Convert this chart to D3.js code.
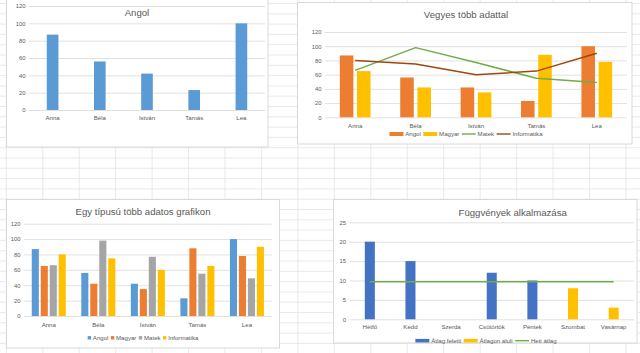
<!DOCTYPE html>
<html>
<head>
<meta charset="utf-8">
<script src="https://cdn.jsdelivr.net/npm/d3@7"></script>
<style>
  body { margin: 0; background: #fff; }
  text { font-family: "Liberation Sans", Arial, sans-serif; }
</style>
</head>
<body>
<svg id="sheet" width="640" height="353"></svg>
<script>
// ---- data ----
const students = ["Anna", "Béla", "István", "Tamás", "Lea"];
const angol = [87, 56, 42, 23, 100];
const magyar = [65, 42, 35, 88, 78];
const matek = [66, 98, 77, 55, 49];
const informatika = [80, 75, 60, 65, 90];
const pointTicks = [0, 20, 40, 60, 80, 100, 120];

const days = ["Hétfő", "Kedd", "Szerda", "Csütörtök", "Péntek", "Szombat", "Vasárnap"];
const atlagFeletti = [20, 15, null, 12, 10, null, null];
const atlagonAluli = [null, null, 0, null, null, 8, 3];
const hetiAtlag = [9.7, 9.7, 9.7, 9.7, 9.7, 9.7, 9.7];
const dayTicks = [0, 5, 10, 15, 20, 25];

const TXT = "#595959";
const GRID = "#D9D9D9";
const FS = 6.1; // axis / legend font size

const svg = d3.select("#sheet");
svg.append("rect").attr("width", 640).attr("height", 353).attr("fill", "#fff");

// spreadsheet cell grid behind the charts
const sheetGrid = svg.append("g").attr("stroke", "#E3E3E3").attr("stroke-width", 0.8);
d3.range(6.3, 640, 36.45).forEach((x) => {
  sheetGrid.append("line").attr("x1", x).attr("x2", x).attr("y1", 0).attr("y2", 353);
});
d3.range(3.5, 353, 10.3).forEach((y) => {
  sheetGrid.append("line").attr("x1", 0).attr("x2", 640).attr("y1", y).attr("y2", y);
});

// white chart box with thin border
function chartBox(x0, y0, x1, y1) {
  svg.append("rect")
    .attr("x", x0).attr("y", y0)
    .attr("width", x1 - x0).attr("height", y1 - y0)
    .attr("fill", "#fff").attr("stroke", GRID).attr("stroke-width", 1);
  return svg.append("g");
}

function title(g, text, cx, cy) {
  g.append("text")
    .attr("x", cx).attr("y", cy).attr("dy", "0.35em")
    .attr("text-anchor", "middle")
    .attr("font-size", 9.6).attr("fill", TXT)
    .text(text);
}

// value axis with horizontal gridlines
function valueAxis(g, y, ticks, x0, x1) {
  const ax = g.append("g")
    .attr("transform", `translate(${x0},0)`)
    .call(d3.axisLeft(y).tickValues(ticks).tickSize(-(x1 - x0)).tickPadding(3.5));
  ax.select(".domain").remove();
  ax.selectAll(".tick line").attr("stroke", GRID).attr("stroke-width", 0.8);
  ax.selectAll(".tick text").attr("font-size", FS - 0.3).attr("fill", TXT);
}

// category labels under the plot
function categoryAxis(g, x, yBase, offset) {
  const ax = g.append("g")
    .attr("transform", `translate(0,${yBase})`)
    .call(d3.axisBottom(x).tickSize(0));
  ax.select(".domain").remove();
  ax.selectAll(".tick text")
    .attr("y", offset).attr("dy", "0.35em")
    .attr("font-size", FS).attr("fill", TXT);
}

// Excel-like clustered layout: gap width 219%, overlap -27%
function clusterScale(x, keys) {
  const n = keys.length;
  const groupW = x.bandwidth() * (n + 0.27 * (n - 1)) / (n + 0.27 * (n - 1) + 2.19);
  const off = (x.bandwidth() - groupW) / 2;
  return d3.scaleBand().domain(keys).range([off, off + groupW]).paddingInner(0.27 / 1.27);
}

function bars(g, x, inner, y, key, values, cats, color) {
  g.append("g").selectAll("rect")
    .data(values.map((v, i) => ({ v, c: cats[i] })).filter((d) => d.v !== null))
    .enter().append("rect")
    .attr("x", (d) => x(d.c) + inner(key))
    .attr("width", inner.bandwidth())
    .attr("y", (d) => y(d.v))
    .attr("height", (d) => y(0) - y(d.v))
    .attr("fill", color);
}

function seriesLine(g, x, y, values, cats, color, w) {
  const line = d3.line()
    .x((d, i) => x(cats[i]) + x.bandwidth() / 2)
    .y((d) => y(d));
  g.append("path").datum(values)
    .attr("d", line).attr("fill", "none")
    .attr("stroke", color).attr("stroke-width", w)
    .attr("stroke-linejoin", "round");
}

// legend centred on cx; items: {name, color, kind: "square" | "rect" | "line"}
function legend(g, items, cx, cy, keyW, keyH) {
  const lg = g.append("g");
  let pos = 0;
  items.forEach((it) => {
    if (it.kind === "line") {
      lg.append("line")
        .attr("x1", pos).attr("x2", pos + keyW)
        .attr("y1", cy).attr("y2", cy)
        .attr("stroke", it.color).attr("stroke-width", 1.4);
    } else {
      lg.append("rect")
        .attr("x", pos).attr("y", cy - keyH / 2)
        .attr("width", keyW).attr("height", keyH)
        .attr("fill", it.color);
    }
    pos += keyW + 1.8;
    const t = lg.append("text")
      .attr("x", pos).attr("y", cy).attr("dy", "0.35em")
      .attr("font-size", FS).attr("fill", TXT)
      .text(it.name);
    pos += t.node().getComputedTextLength() + 2.4;
  });
  lg.attr("transform", `translate(${cx - (pos - 2.4) / 2},0)`);
}

// ---- 1. Angol ----
{
  const g = chartBox(6.5, -5, 268, 147);
  const x = d3.scaleBand().domain(students).range([29, 265]);
  const y = d3.scaleLinear().domain([0, 120]).range([110, 6]);
  valueAxis(g, y, pointTicks, 29, 265);
  const inner = clusterScale(x, ["Angol"]);
  bars(g, x, inner, y, "Angol", angol, students, "#5B9BD5");
  categoryAxis(g, x, 110, 8);
  title(g, "Angol", 137, 13);
}

// ---- 2. Vegyes több adattal ----
{
  const g = chartBox(297.5, 2.5, 632, 144);
  const x = d3.scaleBand().domain(students).range([325, 627]);
  const y = d3.scaleLinear().domain([0, 120]).range([117.3, 32]);
  valueAxis(g, y, pointTicks, 325, 627);
  const inner = clusterScale(x, ["Angol", "Magyar"]);
  bars(g, x, inner, y, "Angol", angol, students, "#ED7D31");
  bars(g, x, inner, y, "Magyar", magyar, students, "#FFC000");
  seriesLine(g, x, y, matek, students, "#70AD47", 1.5);
  seriesLine(g, x, y, informatika, students, "#9E480E", 1.5);
  categoryAxis(g, x, 117.3, 8.7);
  title(g, "Vegyes több adattal", 466, 14.5);
  legend(g, [
    { name: "Angol", color: "#ED7D31", kind: "rect" },
    { name: "Magyar", color: "#FFC000", kind: "rect" },
    { name: "Matek", color: "#70AD47", kind: "line" },
    { name: "Informatika", color: "#9E480E", kind: "line" },
  ], 466, 134, 14, 4);
}

// ---- 3. Egy típusú több adatos grafikon ----
{
  const g = chartBox(6.5, 199.5, 279.5, 348);
  const x = d3.scaleBand().domain(students).range([24, 271.7]);
  const y = d3.scaleLinear().domain([0, 120]).range([316, 223.7]);
  valueAxis(g, y, pointTicks, 24, 271.7);
  const keys = ["Angol", "Magyar", "Matek", "Informatika"];
  const inner = clusterScale(x, keys);
  bars(g, x, inner, y, "Angol", angol, students, "#5B9BD5");
  bars(g, x, inner, y, "Magyar", magyar, students, "#ED7D31");
  bars(g, x, inner, y, "Matek", matek, students, "#A5A5A5");
  bars(g, x, inner, y, "Informatika", informatika, students, "#FFC000");
  categoryAxis(g, x, 316, 9);
  title(g, "Egy típusú több adatos grafikon", 143, 211.7);
  legend(g, [
    { name: "Angol", color: "#5B9BD5", kind: "square" },
    { name: "Magyar", color: "#ED7D31", kind: "square" },
    { name: "Matek", color: "#A5A5A5", kind: "square" },
    { name: "Informatika", color: "#FFC000", kind: "square" },
  ], 143, 337.8, 3.4, 3.4);
}

// ---- 4. Függvények alkalmazása ----
{
  const g = chartBox(333.5, 199.5, 637, 343);
  const x = d3.scaleBand().domain(days).range([349.5, 634]);
  const y = d3.scaleLinear().domain([0, 25]).range([319.3, 222.3]);
  valueAxis(g, y, dayTicks, 349.5, 634);
  // the two bar series overlap fully, so both use the same slot
  const inner = clusterScale(x, ["bar"]);
  bars(g, x, inner, y, "bar", atlagFeletti, days, "#4472C4");
  bars(g, x, inner, y, "bar", atlagonAluli, days, "#FFC000");
  seriesLine(g, x, y, hetiAtlag, days, "#70AD47", 1.5);
  categoryAxis(g, x, 319.3, 8);
  title(g, "Függvények alkalmazása", 512.7, 212.3);
  legend(g, [
    { name: "Átlag feletti", color: "#4472C4", kind: "rect" },
    { name: "Átlagon aluli", color: "#FFC000", kind: "rect" },
    { name: "Heti átlag", color: "#70AD47", kind: "line" },
  ], 486, 340.7, 14, 3.6);
}
</script>
</body>
</html>
